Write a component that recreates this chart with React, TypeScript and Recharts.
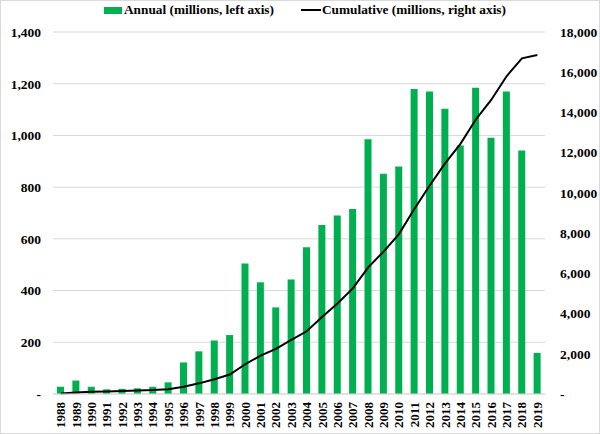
import { ComposedChart, Bar, Line, XAxis, YAxis, CartesianGrid } from 'recharts';

const years = [
  '1988', '1989', '1990', '1991', '1992', '1993', '1994', '1995', '1996', '1997', '1998',
  '1999', '2000', '2001', '2002', '2003', '2004', '2005', '2006', '2007', '2008', '2009',
  '2010', '2011', '2012', '2013', '2014', '2015', '2016', '2017', '2018', '2019',
];

const annual = [
  28, 52, 28, 18, 20, 22, 28, 45, 122, 165, 207, 228, 505, 432, 335, 443, 568, 654, 690,
  715, 985, 852, 880, 1180, 1170, 1103, 961, 1184, 991, 1170, 942, 159,
];

const cumulative = [
  30, 80, 110, 125, 145, 170, 195, 240, 360, 530, 735, 970, 1480, 1910, 2240, 2690, 3120,
  3830, 4500, 5250, 6300, 7080, 7950, 9200, 10370, 11470, 12440, 13650, 14620, 15800,
  16690, 16860,
];

const leftTicks = [0, 200, 400, 600, 800, 1000, 1200, 1400];
const rightTicks = [0, 2000, 4000, 6000, 8000, 10000, 12000, 14000, 16000, 18000];

const data = years.map((year, i) => ({ year, annual: annual[i], cumulative: cumulative[i] }));

const FONT = 'Liberation Serif';
const GREEN = '#00b050';

const fmt = (v: number) => (v === 0 ? '-' : v.toLocaleString('en-US'));

const tickStyle = { fill: '#000', fontSize: 13.5, fontWeight: 700, fontFamily: FONT };

function YearTick({ x, y, payload }: any) {
  return (
    <g transform={`translate(${x},${y})`}>
      <text
        x={0}
        y={0}
        dy={4.5}
        textAnchor="end"
        transform="rotate(-90)"
        fontFamily={FONT}
        fontSize={13}
        fontWeight={700}
        fill="#000"
      >
        {payload.value}
      </text>
    </g>
  );
}

export default function App() {
  return (
    <div
      style={{
        position: 'absolute',
        left: 0,
        top: 0,
        width: 600,
        height: 434,
        background: '#fff',
        fontFamily: FONT,
      }}
    >
      <div
        style={{
          position: 'absolute',
          left: 0,
          top: 0,
          width: 598,
          height: 432,
          border: '1px solid #d9d9d9',
        }}
      />
      <div
        style={{
          position: 'absolute',
          top: 2,
          left: 104,
          display: 'flex',
          alignItems: 'center',
          fontSize: 13.3,
          fontWeight: 700,
          color: '#000',
          gap: 27,
          whiteSpace: 'nowrap',
        }}
      >
        <span style={{ display: 'flex', alignItems: 'center' }}>
          <span style={{ width: 18, height: 7, background: GREEN, marginRight: 2 }} />
          Annual (millions, left axis)
        </span>
        <span style={{ display: 'flex', alignItems: 'center' }}>
          <span style={{ width: 20, height: 2, background: '#000', marginRight: 1 }} />
          Cumulative (millions, right axis)
        </span>
      </div>
      <ComposedChart
        width={600}
        height={434}
        data={data}
        margin={{ top: 32, right: 0, bottom: 0, left: 0 }}
        style={{ fontFamily: FONT }}
      >
        <CartesianGrid yAxisId="left" vertical={false} stroke="#d9d9d9" />
        <XAxis
          dataKey="year"
          interval={0}
          height={40}
          tickLine={false}
          axisLine={{ stroke: '#d9d9d9' }}
          tick={<YearTick />}
          tickMargin={2}
        />
        <YAxis
          yAxisId="left"
          orientation="left"
          width={53}
          domain={[0, 1400]}
          ticks={leftTicks}
          tickFormatter={fmt}
          tickLine={false}
          axisLine={false}
          tick={tickStyle}
          tickMargin={6}
        />
        <YAxis
          yAxisId="right"
          orientation="right"
          width={55}
          domain={[0, 18000]}
          ticks={rightTicks}
          tickFormatter={fmt}
          tickLine={false}
          axisLine={false}
          tick={{ ...tickStyle, textAnchor: 'start' }}
          tickMargin={9}
        />
        <Bar yAxisId="left" dataKey="annual" fill={GREEN} barSize={7} isAnimationActive={false} />
        <Line
          yAxisId="right"
          dataKey="cumulative"
          type="linear"
          stroke="#000"
          strokeWidth={2}
          dot={false}
          isAnimationActive={false}
        />
      </ComposedChart>
    </div>
  );
}
